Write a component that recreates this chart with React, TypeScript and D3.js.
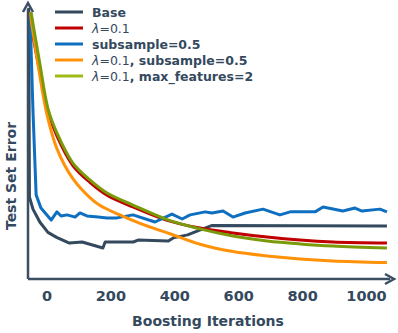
import React from "react";
import * as d3 from "d3";

const W = 398;
const H = 333;

// [iteration, test set error]
const baseSeries: [number, number][] = [
  [-57, 0.99], [-55, 0.3], [-44, 0.255], [-22, 0.207], [3, 0.17], [30, 0.152],
  [70, 0.131], [110, 0.135], [175, 0.113], [182, 0.135], [270, 0.135], [285, 0.142],
  [380, 0.139], [395, 0.15], [440, 0.161], [480, 0.179], [515, 0.195], [1064, 0.193],
];
const lambdaSeries: [number, number][] = [
  [-58, 0.975], [-25, 0.77], [3, 0.612], [31, 0.522], [81, 0.414], [135, 0.352],
  [188, 0.306], [269, 0.263], [376, 0.214], [479, 0.186], [582, 0.168], [689, 0.153],
  [792, 0.142], [895, 0.135], [1064, 0.131],
];
const subsampleSeries: [number, number][] = [
  [-53, 0.964], [-44, 0.617], [-34, 0.307], [-19, 0.259], [13, 0.215], [31, 0.245],
  [44, 0.23], [63, 0.234], [88, 0.226], [103, 0.241], [125, 0.23], [160, 0.226],
  [188, 0.223], [219, 0.223], [269, 0.234], [338, 0.208], [391, 0.237], [423, 0.219],
  [448, 0.234], [495, 0.245], [516, 0.241], [551, 0.248], [582, 0.226], [620, 0.241],
  [676, 0.255], [729, 0.234], [761, 0.245], [839, 0.245], [864, 0.263], [926, 0.248],
  [964, 0.259], [986, 0.248], [1042, 0.255], [1064, 0.245],
];
const lambdaSubsampleSeries: [number, number][] = [
  [-53, 0.974], [-25, 0.76], [0, 0.6], [31, 0.476], [81, 0.366], [135, 0.296],
  [166, 0.268], [228, 0.234], [291, 0.203], [385, 0.165], [479, 0.127], [582, 0.1],
  [689, 0.084], [792, 0.073], [895, 0.066], [1064, 0.06],
];
const lambdaMaxFeatSeries: [number, number][] = [
  [-50, 0.974], [-23, 0.79], [3, 0.622], [31, 0.533], [81, 0.423], [135, 0.361],
  [188, 0.314], [269, 0.27], [376, 0.217], [479, 0.183], [582, 0.157], [689, 0.139],
  [792, 0.128], [895, 0.12], [1064, 0.113],
];

const xTicks = [0, 200, 400, 600, 800, 1000];

const TEXT = "#34495e";
const FONT = "'DejaVu Sans', Verdana, sans-serif";

const seriesDefs = [
  { key: "base", data: baseSeries, color: "#34495e", legendColor: "#34495e", smooth: false },
  { key: "lambda", data: lambdaSeries, color: "#c00000", legendColor: "#c00000", smooth: true },
  { key: "subsample", data: subsampleSeries, color: "#0e6fc1", legendColor: "#0e6fc1", smooth: false },
  { key: "lamsub", data: lambdaSubsampleSeries, color: "#ff9208", legendColor: "#ff9208", smooth: true },
  { key: "lammax", data: lambdaMaxFeatSeries, color: "#7a9a0a", legendColor: "#9dbb14", smooth: true },
];

export default function App() {
  const x = d3.scaleLinear().domain([0, 1000]).range([47, 366.5]);
  const y = d3.scaleLinear().domain([0, 1]).range([279, 5]);
  const axisX0 = 28;
  const axisY0 = 279;

  const mk = (smooth: boolean) =>
    d3
      .line<[number, number]>()
      .x((d) => x(d[0]))
      .y((d) => y(d[1]))
      .curve(smooth ? d3.curveCatmullRom.alpha(0.5) : d3.curveLinear);

  const legendRows = [
    { color: seriesDefs[0].legendColor, parts: [{ t: "Base", w: "bold" }] },
    { color: seriesDefs[1].legendColor, parts: [{ t: "λ", w: "normal", i: true }, { t: "=0.1", w: "normal" }] },
    { color: seriesDefs[2].legendColor, parts: [{ t: "subsample=0.5", w: "bold" }] },
    {
      color: seriesDefs[3].legendColor,
      parts: [{ t: "λ", w: "normal", i: true }, { t: "=0.1", w: "normal" }, { t: ", subsample=0.5", w: "bold" }],
    },
    {
      color: seriesDefs[4].legendColor,
      parts: [{ t: "λ", w: "normal", i: true }, { t: "=0.1", w: "normal" }, { t: ", max_features=2", w: "bold" }],
    },
  ];

  return (
    <svg
      width={W}
      height={H}
      style={{ position: "absolute", left: 0, top: 0, background: "#fff" }}
      fontFamily={FONT}
    >
      {seriesDefs.map((s) => (
        <path
          key={s.key}
          d={mk(s.smooth)(s.data) || ""}
          fill="none"
          stroke={s.color}
          strokeWidth={3}
          strokeLinejoin="round"
        />
      ))}

      <line x1={axisX0} y1={axisY0} x2={axisX0} y2={9} stroke="#3b4e62" strokeWidth={2.5} />
      <path d={`M${axisX0 - 5},${12} L${axisX0},${3} L${axisX0 + 5},${12}`} fill="none" stroke="#3b4e62" strokeWidth={2.5} />
      <line x1={axisX0} y1={axisY0} x2={390} y2={axisY0} stroke="#3b4e62" strokeWidth={2.5} />
      <path d={`M${385},${axisY0 - 5} L${394},${axisY0} L${385},${axisY0 + 5}`} fill="none" stroke="#3b4e62" strokeWidth={2.5} />

      {xTicks.map((t) => (
        <text key={t} x={x(t)} y={301} textAnchor="middle" fontSize={14.5} fontWeight="bold" fill={TEXT}>
          {t}
        </text>
      ))}

      <text x={208} y={326} textAnchor="middle" fontSize={14} fontWeight="bold" fill={TEXT}>
        Boosting Iterations
      </text>
      <text
        transform={`translate(16,176) rotate(-90)`}
        textAnchor="middle"
        fontSize={14}
        fontWeight="bold"
        fill={TEXT}
      >
        Test Set Error
      </text>

      {legendRows.map((r, i) => {
        const cy = 12 + 16 * i;
        return (
          <g key={i}>
            <line x1={55} x2={83} y1={cy} y2={cy} stroke={r.color} strokeWidth={3} />
            <text x={92} y={cy + 4.5} fontSize={12.5} fill={TEXT}>
              {r.parts.map((p: any, j: number) => (
                <tspan key={j} fontWeight={p.w} fontStyle={p.i ? "italic" : "normal"}>
                  {p.t}
                </tspan>
              ))}
            </text>
          </g>
        );
      })}
    </svg>
  );
}
